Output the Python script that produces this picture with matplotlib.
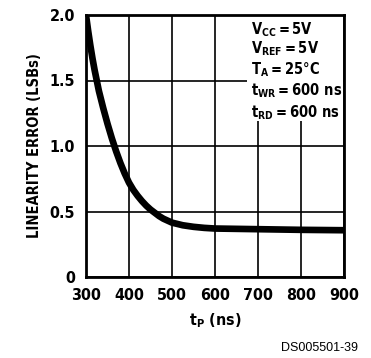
import matplotlib
matplotlib.use("Agg")
import matplotlib.pyplot as plt
import matplotlib.patches as mpatches

plt.rcParams['font.family'] = ['DejaVu Sans']
plt.rcParams['font.stretch'] = 'condensed'
plt.rcParams['font.weight'] = 'bold'
plt.rcParams['mathtext.fontset'] = 'custom'
for k in ('rm', 'it', 'bf'):
    plt.rcParams['mathtext.' + k] = 'DejaVu Sans:weight=bold:stretch=condensed'

tp_ns = [300, 305, 310, 315, 320, 325, 330, 340, 350, 360, 370, 380, 390, 400, 410, 420, 430, 440,
         450, 460, 470, 480, 490, 500, 525, 550, 575, 600, 700, 800, 900]
lin_err = [2.0, 1.88, 1.77, 1.67, 1.58, 1.50, 1.42, 1.29, 1.17, 1.06, 0.96, 0.87, 0.79, 0.72, 0.665,
           0.62, 0.58, 0.545, 0.515, 0.49, 0.465, 0.445, 0.43, 0.415, 0.395, 0.383, 0.375, 0.37,
           0.365, 0.36, 0.357]
xticks = [300, 400, 500, 600, 700, 800, 900]
yticks = [0, 0.5, 1.0, 1.5, 2.0]
ytick_labels = ['0', '0.5', '1.0', '1.5', '2.0']
conditions = [r'$\mathregular{V_{CC} = 5V}$', r'$\mathregular{V_{REF} = 5V}$',
              r'$\mathregular{T_{A} = 25°C}$', r'$\mathregular{t_{WR} = 600\ ns}$',
              r'$\mathregular{t_{RD} = 600\ ns}$']

fig = plt.figure(figsize=(3.71, 3.58), dpi=100)
ax = fig.add_axes([86/371, 1-277/358, 258/371, 262/358])
ax.set_xlim(300, 900)
ax.set_ylim(0, 2.0)
ax.set_xticks(xticks)
ax.set_yticks(yticks)
ax.set_yticklabels(ytick_labels)
ax.grid(True, color='black', lw=1.2)
ax.set_axisbelow(True)
for s in ax.spines.values():
    s.set_linewidth(2)
ax.tick_params(length=0, labelsize=11.5, pad=8)

ax.add_patch(mpatches.Rectangle((0.625, 0.595), 0.37, 0.41, transform=ax.transAxes,
                                facecolor='white', edgecolor='none', zorder=1.5))

ax.plot(tp_ns, lin_err, color='black', lw=4.8, solid_capstyle='butt', solid_joinstyle='round', zorder=3)

ypos = [30, 49, 70, 91, 113]
for t, yp in zip(conditions, ypos):
    fig.text(251/371, 1-yp/358, t, fontsize=10.5, va='center', ha='left')

ax.set_xlabel(r'$\mathregular{t_{P}\ (ns)}$', fontsize=11.5, fontweight='bold', labelpad=6)
ax.set_ylabel('LINEARITY ERROR (LSBs)', fontsize=10.5, fontweight='bold', labelpad=5)
fig.text(358/371, 1-348/358, 'DS005501-39', fontsize=9, fontweight='normal',
         fontstretch='normal', family=['Liberation Sans', 'DejaVu Sans'], ha='right', va='center')

fig.savefig('out.png', dpi=100)
